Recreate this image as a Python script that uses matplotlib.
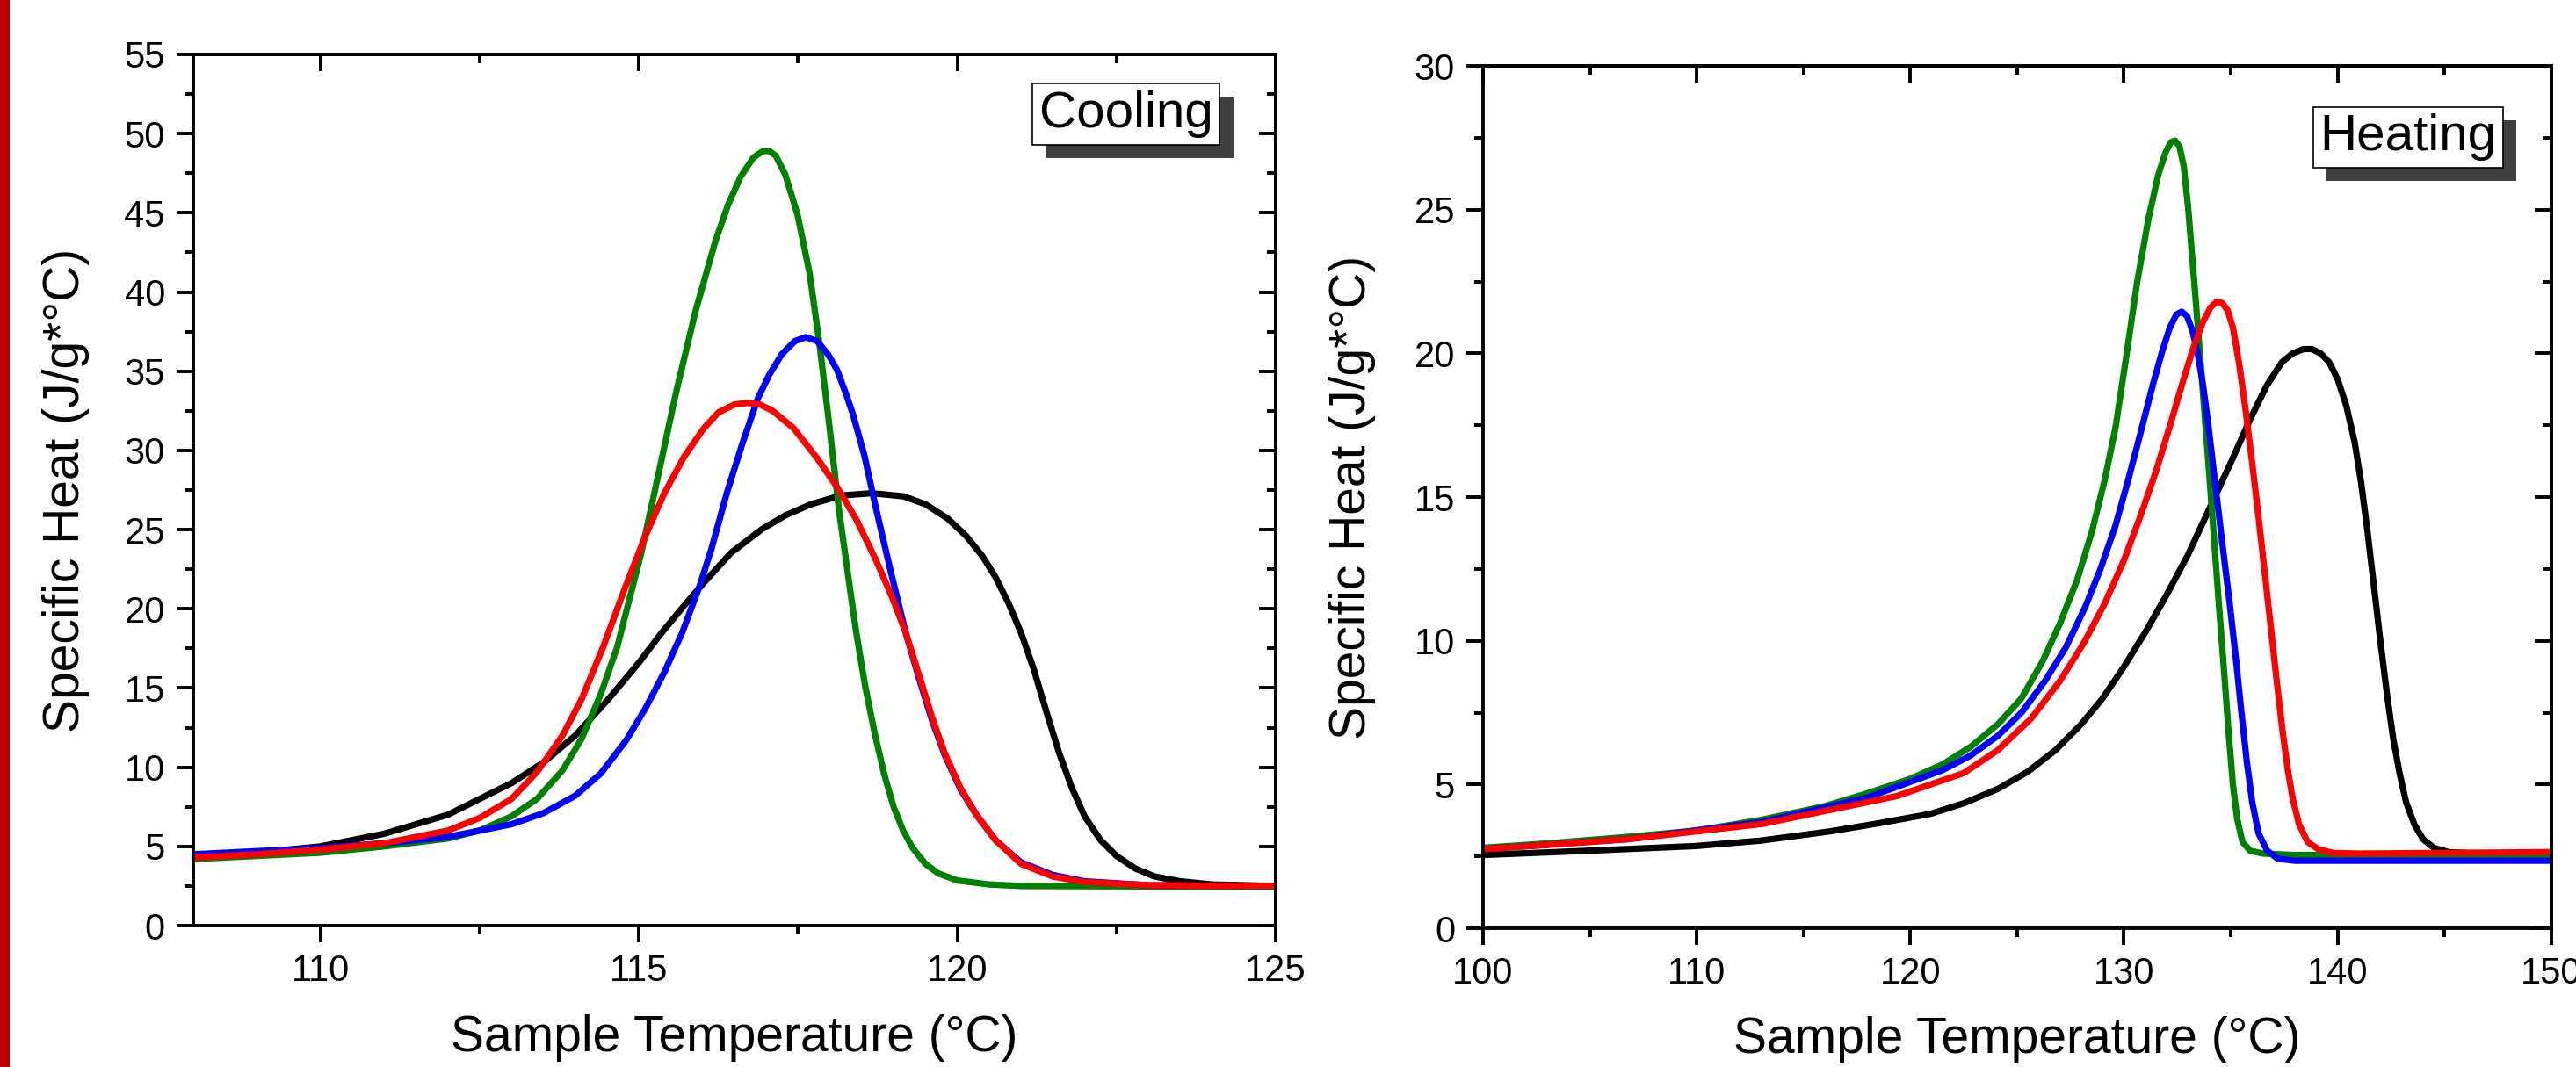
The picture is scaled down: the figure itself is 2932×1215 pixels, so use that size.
import matplotlib
matplotlib.use("Agg")
import matplotlib.pyplot as plt
from matplotlib.ticker import MultipleLocator
from matplotlib.patches import Rectangle
import matplotlib.patheffects as pe

plt.rcParams['font.family'] = ['Liberation Sans', 'DejaVu Sans']

# ---- cooling scans (T in degC, cp in J/g*degC)
cool_green_T = [108.0, 109.0, 110.0, 111.0, 112.0, 112.5, 113.0, 113.4, 113.8, 114.1, 114.4, 114.66,
                114.85, 115.03, 115.28, 115.58, 115.89, 116.2, 116.4, 116.6, 116.8, 116.95, 117.05,
                117.15, 117.3, 117.49, 117.68, 117.83, 117.99, 118.14, 118.3, 118.41, 118.55, 118.7,
                118.85, 119.0, 119.15, 119.3, 119.5, 119.7, 120.0, 120.5, 121.0, 125.0]
cool_green_cp = [4.2, 4.4, 4.6, 5.0, 5.5, 6.0, 6.9, 8.0, 9.8, 11.8, 14.6, 17.6,
                 20.6, 23.4, 28.0, 33.6, 38.8, 43.2, 45.5, 47.3, 48.5, 48.9, 48.9,
                 48.6, 47.4, 44.9, 41.2, 36.9, 31.6, 26.3, 21.7, 18.6, 15.2, 12.2,
                 9.6, 7.5, 6.0, 4.9, 3.9, 3.3, 2.85, 2.6, 2.5, 2.45]

cool_blue_T = [108.0, 109.0, 110.0, 111.0, 112.0, 113.0, 113.5, 114.0, 114.4, 114.8, 115.1, 115.4,
               115.68, 115.95, 116.14, 116.38, 116.63, 116.87, 117.05, 117.25, 117.45, 117.62, 117.8,
               117.98, 118.11, 118.25, 118.36, 118.54, 118.72, 118.97, 119.19, 119.4, 119.6, 119.8,
               120.05, 120.3, 120.6, 121.0, 121.5, 122.0, 123.0, 125.0]
cool_blue_cp = [4.5, 4.7, 4.9, 5.2, 5.6, 6.4, 7.1, 8.2, 9.6, 11.7, 13.7, 16.0,
                18.5, 21.4, 23.8, 27.3, 30.5, 33.3, 34.8, 36.1, 36.9, 37.15, 36.9,
                36.0, 35.1, 33.6, 32.3, 29.7, 26.4, 22.1, 18.5, 15.6, 13.0, 10.8,
                8.6, 7.0, 5.4, 4.0, 3.2, 2.8, 2.55, 2.5]

cool_red_T = [108.0, 109.0, 110.0, 111.0, 112.0, 112.5, 113.0, 113.4, 113.8, 114.1, 114.44, 114.78,
              115.09, 115.4, 115.71, 116.02, 116.25, 116.5, 116.71, 116.9, 117.1, 117.43, 117.8,
              118.11, 118.42, 118.72, 118.97, 119.19, 119.4, 119.6, 119.8, 120.05, 120.3, 120.6,
              121.0, 121.5, 122.0, 123.0, 125.0]
cool_red_cp = [4.3, 4.5, 4.8, 5.2, 6.0, 6.8, 8.0, 9.7, 12.0, 14.3, 17.6, 21.3,
               24.5, 27.3, 29.6, 31.4, 32.4, 32.9, 33.0, 32.9, 32.5, 31.4, 29.5,
               27.7, 25.6, 23.1, 20.8, 18.5, 15.8, 13.2, 10.9, 8.7, 7.0, 5.4,
               3.9, 3.1, 2.75, 2.55, 2.5]

cool_black_T = [108.0, 109.0, 110.0, 110.5, 111.0, 112.0, 113.0, 113.5, 114.0, 114.5, 115.0, 115.34,
                115.71, 116.02, 116.45, 116.94, 117.3, 117.7, 118.17, 118.66, 119.16, 119.5, 119.85,
                120.14, 120.4, 120.6, 120.8, 121.0, 121.2, 121.4, 121.6, 121.8, 122.0, 122.25, 122.5,
                122.8, 123.1, 123.5, 124.0, 125.0]
cool_black_cp = [4.3, 4.6, 5.0, 5.4, 5.8, 7.0, 9.0, 10.3, 12.0, 14.2, 16.6, 18.4,
                 20.2, 21.65, 23.55, 25.05, 25.9, 26.6, 27.15, 27.3, 27.1, 26.6, 25.7,
                 24.6, 23.3, 22.0, 20.4, 18.5, 16.2, 13.5, 10.9, 8.7, 6.9, 5.4, 4.4,
                 3.6, 3.1, 2.8, 2.6, 2.5]

# ---- heating scans
heat_green_T = [100.0, 103.0, 106.78, 110.0, 113.08, 116.0, 118.0, 120.0, 121.5, 122.8, 124.1, 125.2,
                126.2, 127.0, 127.8, 128.5, 129.1, 129.6, 130.05, 130.6, 131.15, 131.6, 131.95,
                132.2, 132.4, 132.6, 132.8, 133.0, 133.2, 133.45, 133.7, 133.95, 134.2, 134.45,
                134.7, 134.9, 135.1, 135.3, 135.55, 135.9, 136.5, 138.0, 150.0]
heat_green_cp = [2.8, 2.95, 3.18, 3.4, 3.78, 4.25, 4.7, 5.2, 5.7, 6.3, 7.1, 8.0,
                 9.3, 10.6, 12.1, 13.8, 15.6, 17.4, 19.6, 22.4, 24.7, 26.2, 27.0,
                 27.35, 27.4, 27.2, 26.5, 25.1, 23.3, 21.0, 18.6, 16.2, 13.7, 11.2,
                 8.8, 6.8, 5.0, 3.8, 3.0, 2.7, 2.6, 2.55, 2.55]

heat_blue_T = [100.0, 106.78, 113.08, 118.0, 121.5, 122.8, 124.1, 125.2, 126.3, 127.3, 128.2, 128.9,
               129.6, 130.2, 130.8, 131.35, 131.8, 132.15, 132.45, 132.7, 132.95, 133.2, 133.45,
               133.7, 133.95, 134.25, 134.6, 134.95, 135.25, 135.5, 135.75, 136.0, 136.3, 136.7,
               137.2, 138.0, 150.0]
heat_blue_cp = [2.75, 3.1, 3.7, 4.55, 5.5, 6.0, 6.7, 7.5, 8.6, 9.8, 11.2, 12.5,
                14.0, 15.6, 17.3, 18.9, 20.1, 20.9, 21.35, 21.45, 21.3, 20.8, 20.0,
                18.9, 17.5, 15.6, 13.4, 11.3, 9.3, 7.5, 5.8, 4.4, 3.3, 2.7,
                2.42, 2.35, 2.35]

heat_red_T = [100.0, 106.78, 113.08, 119.37, 122.5, 124.1, 125.66, 127.0, 128.1, 129.1, 130.0, 130.8,
              131.5, 132.2, 132.75, 133.25, 133.7, 134.05, 134.35, 134.6, 134.85, 135.1, 135.4,
              135.7, 136.0, 136.3, 136.6, 136.9, 137.15, 137.4, 137.65, 137.9, 138.2, 138.6,
              139.1, 139.8, 141.0, 150.0]
heat_red_cp = [2.75, 3.1, 3.63, 4.6, 5.4, 6.2, 7.3, 8.6, 9.9, 11.3, 12.8, 14.4,
               15.9, 17.6, 19.0, 20.2, 21.1, 21.6, 21.8, 21.75, 21.5, 20.9, 19.6,
               18.0, 16.2, 14.3, 12.3, 10.3, 8.6, 7.0, 5.6, 4.5, 3.6, 3.0,
               2.75, 2.62, 2.6, 2.65]

heat_black_T = [100.0, 105.0, 109.93, 113.0, 116.23, 118.5, 120.94, 122.5, 124.1, 125.5, 126.8, 128.0,
                129.0, 130.0, 131.0, 132.0, 133.0, 134.0, 135.0, 135.9, 136.7, 137.4, 137.9,
                138.4, 138.8, 139.2, 139.6, 140.0, 140.4, 140.8, 141.1, 141.4, 141.7, 142.0, 142.3,
                142.6, 142.9, 143.2, 143.6, 144.0, 144.5, 145.2, 146.5, 150.0]
heat_black_cp = [2.55, 2.7, 2.86, 3.05, 3.37, 3.65, 3.98, 4.35, 4.85, 5.45, 6.2, 7.1,
                 8.0, 9.1, 10.3, 11.6, 13.0, 14.6, 16.2, 17.7, 18.9, 19.7, 20.0,
                 20.15, 20.15, 20.0, 19.7, 19.1, 18.2, 16.9, 15.5, 13.8, 11.9, 10.0, 8.2,
                 6.6, 5.4, 4.4, 3.6, 3.1, 2.8, 2.65, 2.6, 2.6]

LW = 5.2
SW = 2.8
fig = plt.figure(figsize=(29.32, 12.15), dpi=100)

# red strip on the left edge
fig.patches.append(Rectangle((0, 0), 11 / 2932, 1, transform=fig.transFigure,
                             facecolor='#C00000', edgecolor='none'))

ax1 = fig.add_axes([0.0750, 0.1325, 0.4202, 0.8165])
ax2 = fig.add_axes([0.5757, 0.1300, 0.4147, 0.8082])


def style(ax, xmaj, xmin, ymaj, ymin):
    for s in ax.spines.values():
        s.set_linewidth(SW)
    ax.xaxis.set_major_locator(MultipleLocator(xmaj))
    ax.xaxis.set_minor_locator(MultipleLocator(xmin))
    ax.yaxis.set_major_locator(MultipleLocator(ymaj))
    ax.yaxis.set_minor_locator(MultipleLocator(ymin))
    ax.tick_params(which='both', direction='out', width=SW, labelsize=30, pad=9)
    ax.tick_params(which='major', length=14)
    ax.tick_params(which='minor', length=7)
    # inward ticks on top and right, no labels
    top = ax.secondary_xaxis('top')
    top.xaxis.set_major_locator(MultipleLocator(xmaj))
    top.xaxis.set_minor_locator(MultipleLocator(xmin))
    top.tick_params(which='both', direction='in', width=SW, labeltop=False)
    top.tick_params(which='major', length=14)
    top.tick_params(which='minor', length=7)
    top.spines['top'].set_linewidth(SW)
    right = ax.secondary_yaxis('right')
    right.yaxis.set_major_locator(MultipleLocator(ymaj))
    right.yaxis.set_minor_locator(MultipleLocator(ymin))
    right.tick_params(which='both', direction='in', width=SW, labelright=False)
    right.tick_params(which='major', length=14)
    right.tick_params(which='minor', length=7)
    right.spines['right'].set_linewidth(SW)
    ax.set_xlabel('Sample Temperature (°C)', fontsize=41)
    ax.set_ylabel('Specific Heat (J/g*°C)', fontsize=41)


def tag(ax, text, x, y):
    t = ax.text(x, y, text, transform=ax.transAxes, fontsize=42, ha='center', va='center',
                bbox=dict(boxstyle='square,pad=0.13', facecolor='white', edgecolor='black', linewidth=1.2))
    t.get_bbox_patch().set_path_effects([
        pe.SimplePatchShadow(offset=(11, -11), shadow_rgbFace='#404040', alpha=1.0), pe.Normal()])


# cooling panel
ax1.plot(cool_black_T, cool_black_cp, color='black', lw=LW)
ax1.plot(cool_green_T, cool_green_cp, color='#008000', lw=LW)
ax1.plot(cool_blue_T, cool_blue_cp, color='#0000FF', lw=LW)
ax1.plot(cool_red_T, cool_red_cp, color='#FF0000', lw=LW)
ax1.set_xlim(108, 125)
ax1.set_ylim(0, 55)
style(ax1, 5, 2.5, 5, 2.5)
ax1.xaxis.set_label_coords(0.5, -0.102)
ax1.yaxis.set_label_coords(-0.096, 0.5)
tag(ax1, 'Cooling', 0.862, 0.9315)

# heating panel
ax2.plot(heat_black_T, heat_black_cp, color='black', lw=LW)
ax2.plot(heat_green_T, heat_green_cp, color='#008000', lw=LW)
ax2.plot(heat_blue_T, heat_blue_cp, color='#0000FF', lw=LW)
ax2.plot(heat_red_T, heat_red_cp, color='#FF0000', lw=LW)
ax2.set_xlim(100, 150)
ax2.set_ylim(0, 30)
style(ax2, 10, 5, 5, 2.5)
ax2.xaxis.set_label_coords(0.5, -0.102)
ax2.yaxis.set_label_coords(-0.100, 0.5)
tag(ax2, 'Heating', 0.866, 0.9175)

fig.savefig('out.png', dpi=100)
